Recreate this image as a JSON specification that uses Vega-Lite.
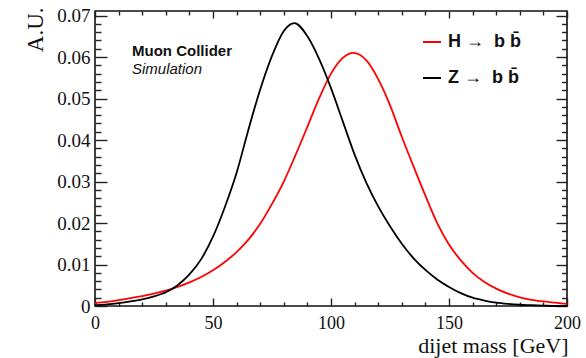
{
  "$schema": "https://vega.github.io/schema/vega-lite/v6.json",
  "width": 472,
  "height": 295,
  "autosize": {"type": "none"},
  "padding": {"left": 95, "top": 11, "right": 19, "bottom": 52},
  "title": {
    "text": "Muon Collider", "subtitle": "Simulation",
    "anchor": "start", "frame": "group", "orient": "top", "dx": 37, "offset": -70,
    "font": "Liberation Sans", "fontSize": 15, "fontWeight": "bold", "color": "#111111",
    "subtitleFont": "Liberation Sans", "subtitleFontSize": 15, "subtitleFontStyle": "italic", "subtitleColor": "#111111", "subtitlePadding": 3
  },
  "config": {
    "font": "Liberation Serif",
    "view": {"stroke": "#111111", "strokeWidth": 1.6},
    "axis": {"grid": false, "domain": false, "zindex": 1, "tickOpacity": 1, "tickWidth": 1.4, "labelColor": "#111111", "titleColor": "#111111"}
  },
  "datasets": {
    "curves": [
      {"m": 0, "v": 0.0007, "proc": "H → b b̄"},
      {"m": 5, "v": 0.0010, "proc": "H → b b̄"},
      {"m": 10, "v": 0.0014, "proc": "H → b b̄"},
      {"m": 15, "v": 0.0019, "proc": "H → b b̄"},
      {"m": 20, "v": 0.0024, "proc": "H → b b̄"},
      {"m": 25, "v": 0.0030, "proc": "H → b b̄"},
      {"m": 30, "v": 0.0037, "proc": "H → b b̄"},
      {"m": 35, "v": 0.0046, "proc": "H → b b̄"},
      {"m": 40, "v": 0.0057, "proc": "H → b b̄"},
      {"m": 45, "v": 0.0070, "proc": "H → b b̄"},
      {"m": 50, "v": 0.0086, "proc": "H → b b̄"},
      {"m": 55, "v": 0.0106, "proc": "H → b b̄"},
      {"m": 60, "v": 0.0130, "proc": "H → b b̄"},
      {"m": 65, "v": 0.0160, "proc": "H → b b̄"},
      {"m": 70, "v": 0.0198, "proc": "H → b b̄"},
      {"m": 75, "v": 0.0246, "proc": "H → b b̄"},
      {"m": 80, "v": 0.0300, "proc": "H → b b̄"},
      {"m": 85, "v": 0.0364, "proc": "H → b b̄"},
      {"m": 90, "v": 0.0432, "proc": "H → b b̄"},
      {"m": 95, "v": 0.0501, "proc": "H → b b̄"},
      {"m": 100, "v": 0.0560, "proc": "H → b b̄"},
      {"m": 105, "v": 0.0598, "proc": "H → b b̄"},
      {"m": 109.5, "v": 0.0610, "proc": "H → b b̄"},
      {"m": 115, "v": 0.0592, "proc": "H → b b̄"},
      {"m": 120, "v": 0.0547, "proc": "H → b b̄"},
      {"m": 125, "v": 0.0484, "proc": "H → b b̄"},
      {"m": 130, "v": 0.0408, "proc": "H → b b̄"},
      {"m": 135, "v": 0.0336, "proc": "H → b b̄"},
      {"m": 140, "v": 0.0266, "proc": "H → b b̄"},
      {"m": 145, "v": 0.0200, "proc": "H → b b̄"},
      {"m": 150, "v": 0.0148, "proc": "H → b b̄"},
      {"m": 155, "v": 0.0110, "proc": "H → b b̄"},
      {"m": 160, "v": 0.0080, "proc": "H → b b̄"},
      {"m": 165, "v": 0.0058, "proc": "H → b b̄"},
      {"m": 170, "v": 0.0042, "proc": "H → b b̄"},
      {"m": 175, "v": 0.0030, "proc": "H → b b̄"},
      {"m": 180, "v": 0.0021, "proc": "H → b b̄"},
      {"m": 185, "v": 0.0015, "proc": "H → b b̄"},
      {"m": 190, "v": 0.0011, "proc": "H → b b̄"},
      {"m": 195, "v": 0.0008, "proc": "H → b b̄"},
      {"m": 200, "v": 0.0005, "proc": "H → b b̄"},
      {"m": 0, "v": 0.0002, "proc": "Z → b b̄"},
      {"m": 5, "v": 0.0004, "proc": "Z → b b̄"},
      {"m": 10, "v": 0.0007, "proc": "Z → b b̄"},
      {"m": 15, "v": 0.0011, "proc": "Z → b b̄"},
      {"m": 20, "v": 0.0016, "proc": "Z → b b̄"},
      {"m": 25, "v": 0.0023, "proc": "Z → b b̄"},
      {"m": 30, "v": 0.0033, "proc": "Z → b b̄"},
      {"m": 35, "v": 0.0050, "proc": "Z → b b̄"},
      {"m": 40, "v": 0.0076, "proc": "Z → b b̄"},
      {"m": 45, "v": 0.0113, "proc": "Z → b b̄"},
      {"m": 50, "v": 0.0167, "proc": "Z → b b̄"},
      {"m": 55, "v": 0.0238, "proc": "Z → b b̄"},
      {"m": 60, "v": 0.0321, "proc": "Z → b b̄"},
      {"m": 65, "v": 0.0425, "proc": "Z → b b̄"},
      {"m": 70, "v": 0.0522, "proc": "Z → b b̄"},
      {"m": 75, "v": 0.0603, "proc": "Z → b b̄"},
      {"m": 80, "v": 0.0663, "proc": "Z → b b̄"},
      {"m": 84.5, "v": 0.0682, "proc": "Z → b b̄"},
      {"m": 90, "v": 0.0650, "proc": "Z → b b̄"},
      {"m": 95, "v": 0.0595, "proc": "Z → b b̄"},
      {"m": 100, "v": 0.0525, "proc": "Z → b b̄"},
      {"m": 105, "v": 0.0445, "proc": "Z → b b̄"},
      {"m": 110, "v": 0.0365, "proc": "Z → b b̄"},
      {"m": 115, "v": 0.0297, "proc": "Z → b b̄"},
      {"m": 120, "v": 0.0240, "proc": "Z → b b̄"},
      {"m": 125, "v": 0.0192, "proc": "Z → b b̄"},
      {"m": 130, "v": 0.0150, "proc": "Z → b b̄"},
      {"m": 135, "v": 0.0115, "proc": "Z → b b̄"},
      {"m": 140, "v": 0.0087, "proc": "Z → b b̄"},
      {"m": 145, "v": 0.0064, "proc": "Z → b b̄"},
      {"m": 150, "v": 0.0046, "proc": "Z → b b̄"},
      {"m": 155, "v": 0.0031, "proc": "Z → b b̄"},
      {"m": 160, "v": 0.0020, "proc": "Z → b b̄"},
      {"m": 165, "v": 0.0013, "proc": "Z → b b̄"},
      {"m": 170, "v": 0.0008, "proc": "Z → b b̄"},
      {"m": 175, "v": 0.0005, "proc": "Z → b b̄"},
      {"m": 180, "v": 0.0003, "proc": "Z → b b̄"},
      {"m": 185, "v": 0.0002, "proc": "Z → b b̄"},
      {"m": 190, "v": 0.0001, "proc": "Z → b b̄"},
      {"m": 195, "v": 0.0000, "proc": "Z → b b̄"},
      {"m": 200, "v": 0.0000, "proc": "Z → b b̄"}
    ]
  },
  "data": {"name": "curves"},
  "resolve": {
    "scale": {"x": "independent", "y": "independent"},
    "axis": {"x": "independent", "y": "independent"}
  },
  "layer": [
    {
      "mark": {"type": "line", "interpolate": "monotone", "strokeWidth": 1.8},
      "encoding": {
        "x": {
          "field": "m", "type": "quantitative",
          "scale": {"domain": [0, 200], "nice": false, "zero": false},
          "axis": {
            "orient": "bottom",
            "values": [0, 10, 20, 30, 40, 50, 60, 70, 80, 90, 100, 110, 120, 130, 140, 150, 160, 170, 180, 190, 200],
            "ticks": true, "tickColor": "#222222",
            "tickSize": {"condition": {"test": "datum.value % 50 === 0", "value": -8}, "value": -4},
            "labelExpr": "datum.value % 50 === 0 ? datum.label : ''",
            "labelFontSize": 18, "labelPadding": 16, "labelFlush": false, "labelOverlap": false,
            "title": "dijet mass [GeV]", "titleFontSize": 22, "titleFontWeight": "normal",
            "titleAlign": "right", "titleBaseline": "alphabetic", "titleX": 473, "titleY": 46
          }
        },
        "y": {
          "field": "v", "type": "quantitative",
          "scale": {"domain": [0, 0.0711], "nice": false, "zero": false},
          "axis": {
            "orient": "left",
            "values": [0, 0.002, 0.004, 0.006, 0.008, 0.01, 0.012, 0.014, 0.016, 0.018, 0.02, 0.022, 0.024, 0.026, 0.028, 0.03, 0.032, 0.034, 0.036, 0.038, 0.04, 0.042, 0.044, 0.046, 0.048, 0.05, 0.052, 0.054, 0.056, 0.058, 0.06, 0.062, 0.064, 0.066, 0.068, 0.07],
            "ticks": true, "tickColor": "#222222",
            "tickSize": {"condition": {"test": "abs(datum.value * 100 - round(datum.value * 100)) < 0.001", "value": -12}, "value": -6},
            "labelExpr": "abs(datum.value * 100 - round(datum.value * 100)) < 0.001 ? (datum.value == 0 ? '0' : format(datum.value, '.2f')) : ''",
            "labelFontSize": 19, "labelPadding": 17, "labelFlush": false, "labelOverlap": false,
            "title": "A.U.", "titleFontSize": 23, "titleFontWeight": "normal",
            "titleAngle": 270, "titleAlign": "right", "titleBaseline": "alphabetic", "titleX": -53, "titleY": -4
          }
        },
        "color": {
          "field": "proc", "type": "nominal",
          "scale": {"domain": ["H → b b̄", "Z → b b̄"], "range": ["#ff0000", "#000000"]},
          "legend": {
            "orient": "none", "legendX": 327, "legendY": 21, "title": null,
            "symbolType": "stroke", "symbolSize": 324, "symbolStrokeWidth": 2,
            "labelFont": "Liberation Sans", "labelFontWeight": "bold", "labelFontSize": 18,
            "labelExpr": "replace(datum.label, '→ ', '→\u00a0 ')",
            "labelColor": "#111111", "labelOffset": 6, "rowPadding": 17, "padding": 0
          }
        }
      }
    },
    {
      "mark": {"type": "line", "opacity": 0},
      "encoding": {
        "x": {"field": "m", "type": "quantitative", "scale": {"domain": [0, 200], "nice": false, "zero": false},
          "axis": {"orient": "top",
            "values": [0, 10, 20, 30, 40, 50, 60, 70, 80, 90, 100, 110, 120, 130, 140, 150, 160, 170, 180, 190, 200],
            "ticks": true, "tickColor": "#222222",
            "tickSize": {"condition": {"test": "datum.value % 50 === 0", "value": -7}, "value": -4},
            "labels": false, "title": null}},
        "y": {"field": "v", "type": "quantitative", "scale": {"domain": [0, 0.0711], "nice": false, "zero": false},
          "axis": {"orient": "right",
            "values": [0, 0.002, 0.004, 0.006, 0.008, 0.01, 0.012, 0.014, 0.016, 0.018, 0.02, 0.022, 0.024, 0.026, 0.028, 0.03, 0.032, 0.034, 0.036, 0.038, 0.04, 0.042, 0.044, 0.046, 0.048, 0.05, 0.052, 0.054, 0.056, 0.058, 0.06, 0.062, 0.064, 0.066, 0.068, 0.07],
            "ticks": true, "tickColor": "#222222",
            "tickSize": {"condition": {"test": "abs(datum.value * 100 - round(datum.value * 100)) < 0.001", "value": -11}, "value": -5.5},
            "labels": false, "title": null}}
      }
    }
  ]
}
